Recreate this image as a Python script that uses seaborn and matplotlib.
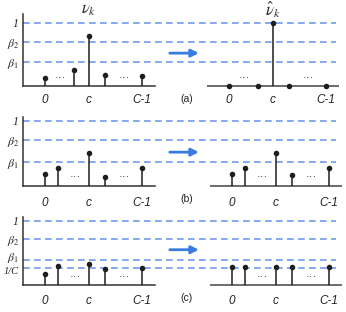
import numpy as np
import pandas as pd
import matplotlib.pyplot as plt
import matplotlib.transforms as mtransforms
import seaborn as sns

sns.set_theme(style='white')
plt.rcParams['font.family'] = ['Liberation Sans', 'DejaVu Sans']
plt.rcParams['mathtext.fontset'] = 'stix'

# stem heights: before / after for each case
a_before = [0.13, 0.25, 0.79, 0.17, 0.16]
a_after = [0.0, 0.0, 1.0, 0.0, 0.0]
b_before = [0.18, 0.28, 0.51, 0.14, 0.28]
b_after = [0.19, 0.28, 0.51, 0.17, 0.28]
c_before = [0.17, 0.30, 0.33, 0.25, 0.27]
c_after = [0.28, 0.28, 0.28, 0.28, 0.28]

# threshold levels per case
beta1 = [0.38, 0.37, 0.39]
beta2 = [0.70, 0.71, 0.72]
inv_c = 0.27

tick_labels = ['0', 'c', 'C-1']
panel_labels = ['(a)', '(b)', '(c)']

# layout (slot positions along x, c sits in slot 3.17, C-1 in slot 7)
slots_a = [0, 2.09, 3.17, 4.33, 7]
slots_bc = [0, 0.94, 3.17, 4.33, 7]
dots_a = [1.08, 5.7]
dots_bc = [2.16, 5.7]
x_lo, x_hi, base_hi, dash_hi = -1.59, 21.5, 7.94, 21.0

rows = [
    dict(before=a_before, after=a_after, slots=slots_a, dots=dots_a,
         rect=[0.0665, 0.7244, 0.9249, 0.2308], top=1.14, off=13.28, pad=6, arrow_y=0.52),
    dict(before=b_before, after=b_after, slots=slots_bc, dots=dots_bc,
         rect=[0.0665, 0.4038, 0.9249, 0.2212], top=1.06, off=13.49, pad=8, arrow_y=0.52),
    dict(before=c_before, after=c_after, slots=slots_bc, dots=dots_bc,
         rect=[0.0665, 0.0865, 0.9249, 0.2180], top=1.06, off=13.49, pad=7, arrow_y=0.55),
]

stem_col = '#1e1e1e'
dash_col = '#7099ee'
arrow_col = '#3a7be2'

fig = plt.figure(figsize=(3.46, 3.12), dpi=100)

for i, r in enumerate(rows):
    ax = fig.add_axes(r['rect'])
    ax.set_xlim(x_lo, x_hi)
    ax.set_ylim(0, r['top'])

    levels = [1.0, beta2[i], beta1[i]]
    ylabels = ['1', r'$\beta_2$', r'$\beta_1$']
    if i == 2:
        levels.append(inv_c)
        ylabels.append('1/C')

    ax.hlines(levels, x_lo, dash_hi, colors=dash_col, lw=1.2,
              linestyles=(0, (4, 2.6)), zorder=1)

    off = r['off']
    df = pd.DataFrame({
        'x': list(r['slots']) + [s + off for s in r['slots']],
        'y': list(r['before']) + list(r['after']),
    })
    ax.vlines(df['x'], 0, df['y'], colors=stem_col, lw=1.1, zorder=3)
    sns.scatterplot(data=df, x='x', y='y', ax=ax, color=stem_col, s=16,
                    edgecolor=stem_col, linewidth=0, zorder=4, clip_on=False)
    ax.set_xlabel('')
    ax.set_ylabel('')

    # right-hand baseline
    ax.hlines(0, x_lo + off, base_hi + off, colors='#444444', lw=1.1,
              zorder=2, clip_on=False)

    for d in r['dots']:
        for o in (0, off):
            ax.text(d + o, 0.13, '···', ha='center', va='center',
                    fontsize=8, color='#222222')

    # spines
    for s in ('top', 'right'):
        ax.spines[s].set_visible(False)
    for s in ('left', 'bottom'):
        ax.spines[s].set_color('#333333')
        ax.spines[s].set_linewidth(1.1)
    ax.spines['bottom'].set_bounds(x_lo, base_hi)

    xt = [r['slots'][0], r['slots'][2], r['slots'][4]]
    ax.set_xticks(xt + [t + off for t in xt])
    ax.set_xticklabels(tick_labels * 2, fontstyle='italic', fontsize=8.5,
                       color='#222222')
    ax.set_yticks(levels)
    ax.set_yticklabels(ylabels, fontsize=8.5, color='#222222',
                       family='Liberation Serif', fontstyle='italic')
    ax.tick_params(axis='x', length=0, pad=r['pad'])
    ax.tick_params(axis='y', length=0, pad=3)
    if i == 2:
        # pull β1 up and 1/C down a little so the two labels don't collide
        yl = ax.get_yticklabels()
        yl[2].set_transform(yl[2].get_transform() +
                            mtransforms.ScaledTranslation(0, 3 / 72, fig.dpi_scale_trans))
        yl[3].set_transform(yl[3].get_transform() +
                            mtransforms.ScaledTranslation(0, -2 / 72, fig.dpi_scale_trans))
        yl[3].set_fontsize(7.5)

    ax.annotate('', xy=(11.1, r['arrow_y']), xytext=(9.0, r['arrow_y']),
                arrowprops=dict(arrowstyle='-|>', color=arrow_col, lw=2.0,
                                mutation_scale=11, shrinkA=0, shrinkB=0))

    ax.text(10.2, -0.2, panel_labels[i], ha='center', va='center',
            fontsize=7.5, color='#222222', clip_on=False)

    if i == 0:
        ax.text(3.17, 1.2, r'$\nu_k$', ha='center', va='center',
                fontsize=12, clip_on=False)
        ax.text(3.17 + off, 1.2, r'$\hat{\nu}_k$', ha='center', va='center',
                fontsize=12, clip_on=False)

fig.savefig('out.png', dpi=100)
